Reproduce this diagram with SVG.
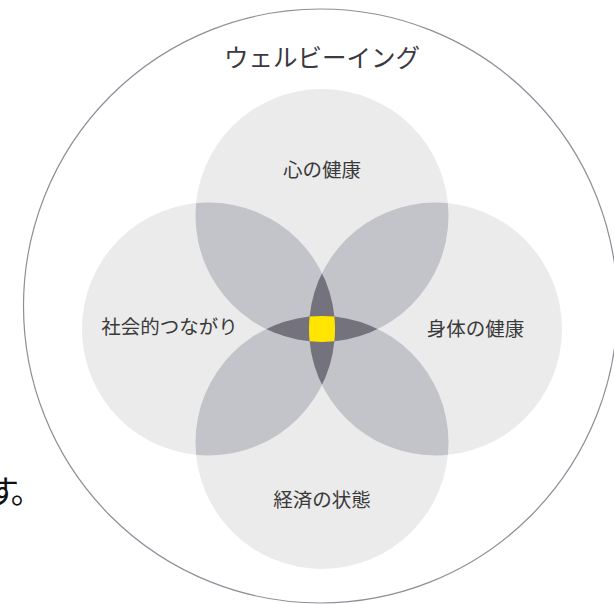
<svg xmlns="http://www.w3.org/2000/svg" width="614" height="604" viewBox="0 0 614 604">
<style>
.lbl{font-family:"Noto Sans CJK JP","Noto Sans",sans-serif;font-size:19.5px;fill:#3a3a3a;text-anchor:middle}
.ttl{font-family:"Noto Sans CJK JP","Noto Sans",sans-serif;font-size:24.5px;fill:#3a3a40;text-anchor:middle}
.c{fill:#ebebeb}
.m{fill:#c3c3ca}
.d{fill:#74737d}
</style>
<defs>
<clipPath id="cT"><circle cx="322" cy="215.5" r="126.5"/></clipPath>
<clipPath id="cB"><circle cx="322" cy="442.5" r="126.5"/></clipPath>
<clipPath id="cL"><circle cx="208.5" cy="329" r="126.5"/></clipPath>
<clipPath id="cR"><circle cx="435.5" cy="329" r="126.5"/></clipPath>
</defs>
<rect width="614" height="604" fill="#ffffff"/>
<text x="-13" y="503" font-family="'Noto Sans CJK JP',sans-serif" font-size="32" letter-spacing="-5" fill="#111">す。</text>
<g id="wellbeing">
<circle cx="320.5" cy="306" r="297" fill="none" stroke="#8e8e98" stroke-width="1.2"/>
<text class="ttl" x="322" y="67">ウェルビーイング</text>
</g>
<g id="mental">
<circle class="c" cx="322" cy="215.5" r="126.5"/>
</g>
<g id="social">
<circle class="c" cx="208.5" cy="329" r="126.5"/>
</g>
<g id="physical">
<circle class="c" cx="435.5" cy="329" r="126.5"/>
</g>
<g id="economic">
<circle class="c" cx="322" cy="442.5" r="126.5"/>
</g>
<g id="overlaps">
<g clip-path="url(#cT)"><circle class="m" cx="208.5" cy="329" r="126.5"/><circle class="m" cx="435.5" cy="329" r="126.5"/></g>
<g clip-path="url(#cB)"><circle class="m" cx="208.5" cy="329" r="126.5"/><circle class="m" cx="435.5" cy="329" r="126.5"/></g>
<g clip-path="url(#cL)"><circle class="d" cx="435.5" cy="329" r="126.5"/></g>
<g clip-path="url(#cT)"><circle class="d" cx="322" cy="442.5" r="126.5"/></g>
<g clip-path="url(#cT)"><g clip-path="url(#cB)"><g clip-path="url(#cL)"><circle fill="#ffe500" cx="435.5" cy="329" r="126.5"/></g></g></g>
</g>
<g id="labels">
<text class="lbl" x="322" y="177">心の健康</text>
<text class="lbl" x="169.5" y="334">社会的つながり</text>
<text class="lbl" x="475.5" y="335.5">身体の健康</text>
<text class="lbl" x="322" y="507">経済の状態</text>
</g>
</svg>
